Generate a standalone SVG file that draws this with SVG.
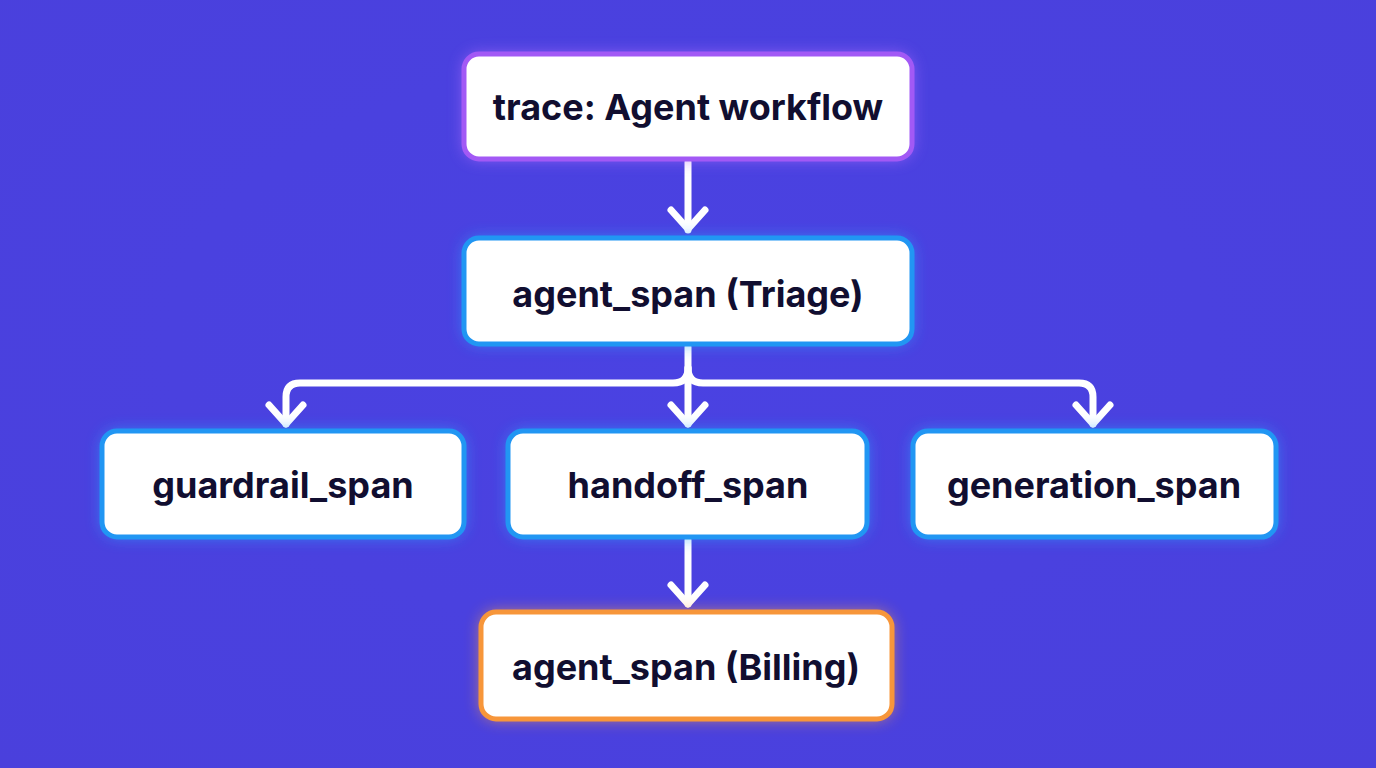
<svg xmlns="http://www.w3.org/2000/svg" width="1376" height="768" viewBox="0 0 1376 768">
  <defs>
    <style>
      .box { fill: #ffffff; stroke-width: 5; }
      .purple { stroke: #a259f5; }
      .blue { stroke: #2196f3; }
      .orange { stroke: #f7963a; }
      .label { font-family: Inter, "Liberation Sans", sans-serif; font-weight: 700; font-size: 36px; fill: #110e30; text-anchor: middle; dominant-baseline: central; }
      .conn { fill: none; stroke: #ffffff; stroke-width: 7; stroke-linecap: round; stroke-linejoin: round; }
    </style>
    <filter id="glow" x="-20%" y="-40%" width="140%" height="180%">
      <feGaussianBlur stdDeviation="8"/>
    </filter>
    <radialGradient id="bg" cx="50%" cy="45%" r="75%">
      <stop offset="0" stop-color="#4a42e2"/>
      <stop offset="1" stop-color="#4a40dc"/>
    </radialGradient>
  </defs>
  <rect width="1376" height="768" fill="url(#bg)"/>

  <g id="connectors" class="conn">
    <path d="M688 162 V230"/>
    <path d="M671 210 L688 229 L705 210"/>
    <path d="M688 347 V368 Q688 383 673 383 H300 Q286 383 286 397 V424"/>
    <path d="M688 368 Q688 383 703 383 H1079 Q1093 383 1093 397 V424"/>
    <path d="M688 368 V424"/>
    <path d="M269 405 L286 424 L303 405"/>
    <path d="M671 405 L688 424 L705 405"/>
    <path d="M1076 405 L1093 424 L1110 405"/>
    <path d="M688 540 V604"/>
    <path d="M671 585 L688 604 L705 585"/>
  </g>

  <g id="node-trace">
    <rect x="464" y="54" width="448" height="105" rx="15" fill="#b46cff" opacity="0.7" filter="url(#glow)"/>
    <rect class="box purple" x="464" y="54" width="448" height="105" rx="15"/>
    <text class="label" x="688" y="107">trace: Agent workflow</text>
  </g>

  <g id="node-triage">
    <rect x="464" y="238" width="448" height="106" rx="15" fill="#2aa0ff" opacity="0.7" filter="url(#glow)"/>
    <rect class="box blue" x="464" y="238" width="448" height="106" rx="15"/>
    <text class="label" x="688" y="294">agent_span (Triage)</text>
  </g>

  <g id="node-guardrail">
    <rect x="102" y="431" width="362" height="106" rx="15" fill="#2aa0ff" opacity="0.7" filter="url(#glow)"/>
    <rect class="box blue" x="102" y="431" width="362" height="106" rx="15"/>
    <text class="label" x="283" y="485">guardrail_span</text>
  </g>

  <g id="node-handoff">
    <rect x="508" y="431" width="359" height="106" rx="15" fill="#2aa0ff" opacity="0.7" filter="url(#glow)"/>
    <rect class="box blue" x="508" y="431" width="359" height="106" rx="15"/>
    <text class="label" x="688" y="485">handoff_span</text>
  </g>

  <g id="node-generation">
    <rect x="913" y="431" width="363" height="106" rx="15" fill="#2aa0ff" opacity="0.7" filter="url(#glow)"/>
    <rect class="box blue" x="913" y="431" width="363" height="106" rx="15"/>
    <text class="label" x="1094" y="485">generation_span</text>
  </g>

  <g id="node-billing">
    <rect x="481" y="612" width="411" height="107" rx="15" fill="#ffa040" opacity="0.7" filter="url(#glow)"/>
    <rect class="box orange" x="481" y="612" width="411" height="107" rx="15"/>
    <text class="label" x="686" y="667">agent_span (Billing)</text>
  </g>
</svg>
